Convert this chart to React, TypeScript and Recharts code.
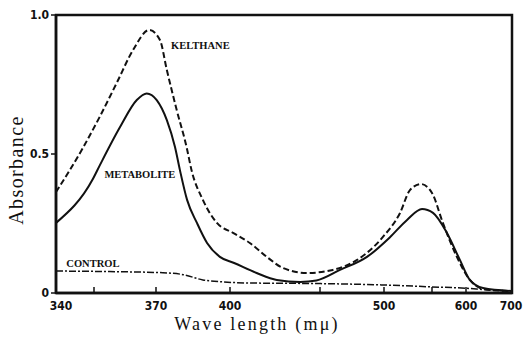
import { LineChart, Line, XAxis, YAxis, ReferenceArea, ReferenceDot } from 'recharts';

// wavelength scale of the instrument is not linear: calibration stops (mμ -> axis units)
const scaleWl = [340, 350, 370, 400, 450, 500, 550, 600, 650, 700];
const scalePos = [0, 38, 100, 174, 264, 328, 376, 410, 442, 456];
const labelledWl = [340, 370, 400, 500, 600, 700];

const kelthaneWl = [340, 347, 351.9, 357.3, 362.6, 367.8, 371.6, 374.4, 378.4, 382.4, 384.4, 389, 394.7, 401.7, 411, 420.6, 429.4, 442.8, 460, 479, 499, 516.7, 527, 538.5, 550, 566, 586.8, 606, 622, 637.5, 700];
const kelthaneAbs = [0.363, 0.52, 0.635, 0.755, 0.874, 0.946, 0.91, 0.802, 0.658, 0.525, 0.442, 0.335, 0.252, 0.216, 0.18, 0.129, 0.09, 0.072, 0.083, 0.119, 0.201, 0.288, 0.37, 0.392, 0.36, 0.252, 0.129, 0.047, 0.018, 0.011, 0.007];

const metaboliteWl = [340, 349.7, 351.9, 358.4, 363.8, 367, 370.3, 374.4, 377.7, 379.7, 382.6, 386.6, 390.7, 395.9, 402.3, 414.8, 426, 439, 448, 465.6, 486.7, 506, 524, 539.6, 551.5, 572, 591, 606, 626.6, 700];
const metaboliteAbs = [0.252, 0.41, 0.46, 0.597, 0.694, 0.718, 0.694, 0.622, 0.525, 0.442, 0.335, 0.252, 0.18, 0.13, 0.108, 0.072, 0.047, 0.04, 0.045, 0.083, 0.13, 0.2, 0.263, 0.302, 0.288, 0.216, 0.119, 0.047, 0.018, 0.007];

const controlWl = [340, 355, 372.8, 381, 389, 397, 411, 448, 499, 550, 601, 630, 700];
const controlAbs = [0.079, 0.077, 0.073, 0.066, 0.047, 0.04, 0.036, 0.034, 0.029, 0.022, 0.017, 0.012, 0.007];

const yTicks = [0, 0.5, 1];

function toPos(wl: number) {
  for (let i = 1; i < scaleWl.length; i++) {
    if (wl <= scaleWl[i]) {
      const t = (wl - scaleWl[i - 1]) / (scaleWl[i] - scaleWl[i - 1]);
      return scalePos[i - 1] + t * (scalePos[i] - scalePos[i - 1]);
    }
  }
  return scalePos[scalePos.length - 1];
}

const build = (wl: number[], abs: number[]) => wl.map((w, i) => ({ u: toPos(w), a: abs[i] }));

const kelthane = build(kelthaneWl, kelthaneAbs);
const metabolite = build(metaboliteWl, metaboliteAbs);
const control = build(controlWl, controlAbs);

const ink = '#111';
const tickFont = { fontFamily: '"DejaVu Sans Condensed", "Liberation Sans Narrow", sans-serif', fontWeight: 700, fontSize: 12, fill: ink };
const noteStyle = { fontFamily: '"Liberation Serif", serif', fontWeight: 700, fontSize: 10.5, fill: ink };

const xTicks = scaleWl.map(toPos);

function WaveTick(props: any) {
  const { x, y, payload } = props;
  const wl = scaleWl[xTicks.indexOf(payload.value)];
  if (!labelledWl.includes(wl)) return null;
  const shift = wl === 340 ? 5 : wl === 700 ? -1 : 0;
  return (
    <text x={x + shift} y={y} dy="0.71em" textAnchor="middle" {...tickFont}>
      {wl}
    </text>
  );
}

export default function App() {
  return (
    <div style={{ position: 'absolute', left: 0, top: 0, background: '#fff' }}>
      <LineChart width={531} height={360} margin={{ top: 15, right: 19, bottom: 27, left: 0 }}>
        <XAxis
          type="number"
          dataKey="u"
          domain={[0, 456]}
          ticks={xTicks}
          allowDataOverflow
          tickSize={-6}
          tickMargin={14}
          height={40}
          axisLine={{ stroke: ink, strokeWidth: 2.5 }}
          tickLine={{ stroke: ink, strokeWidth: 1.5 }}
          tick={WaveTick}
          label={{
            content: () => (
              <text x={257} y={330} textAnchor="middle" fontFamily='"Liberation Serif", serif' fontSize={18} letterSpacing={2.2} fill={ink}>
                Wave length (mμ)
              </text>
            ),
          }}
        />
        <YAxis
          type="number"
          domain={[0, 1]}
          ticks={yTicks}
          width={56}
          tickFormatter={(v: number) => (v === 0 ? '0' : v.toFixed(1))}
          tickSize={5}
          tickMargin={2}
          axisLine={{ stroke: ink, strokeWidth: 2.5 }}
          tickLine={{ stroke: ink, strokeWidth: 1.5 }}
          tick={tickFont}
          label={{
            content: () => (
              <text x={23} y={170} textAnchor="middle" transform="rotate(-90 23 170)" fontFamily='"Liberation Serif", serif' fontSize={20} letterSpacing={1.4} fill={ink}>
                Absorbance
              </text>
            ),
          }}
        />
        <ReferenceArea x1={0} x2={456} y1={0} y2={1} fill="none" stroke={ink} strokeWidth={2.5} />
        <Line data={kelthane} dataKey="a" type="monotone" stroke={ink} strokeWidth={2} strokeDasharray="6 3" dot={false} isAnimationActive={false} />
        <Line data={metabolite} dataKey="a" type="monotone" stroke={ink} strokeWidth={2} dot={false} isAnimationActive={false} />
        <Line data={control} dataKey="a" type="monotone" stroke={ink} strokeWidth={1.5} strokeDasharray="7 2 2 2" dot={false} isAnimationActive={false} />
        <ReferenceDot x={toPos(388)} y={0.892} r={0} fill="none" stroke="none" label={{ value: 'KELTHANE', position: 'center', ...noteStyle }} />
        <ReferenceDot x={toPos(364.8)} y={0.428} r={0} fill="none" stroke="none" label={{ value: 'METABOLITE', position: 'center', ...noteStyle }} />
        <ReferenceDot x={toPos(349.7)} y={0.108} r={0} fill="none" stroke="none" label={{ value: 'CONTROL', position: 'center', ...noteStyle }} />
      </LineChart>
    </div>
  );
}
